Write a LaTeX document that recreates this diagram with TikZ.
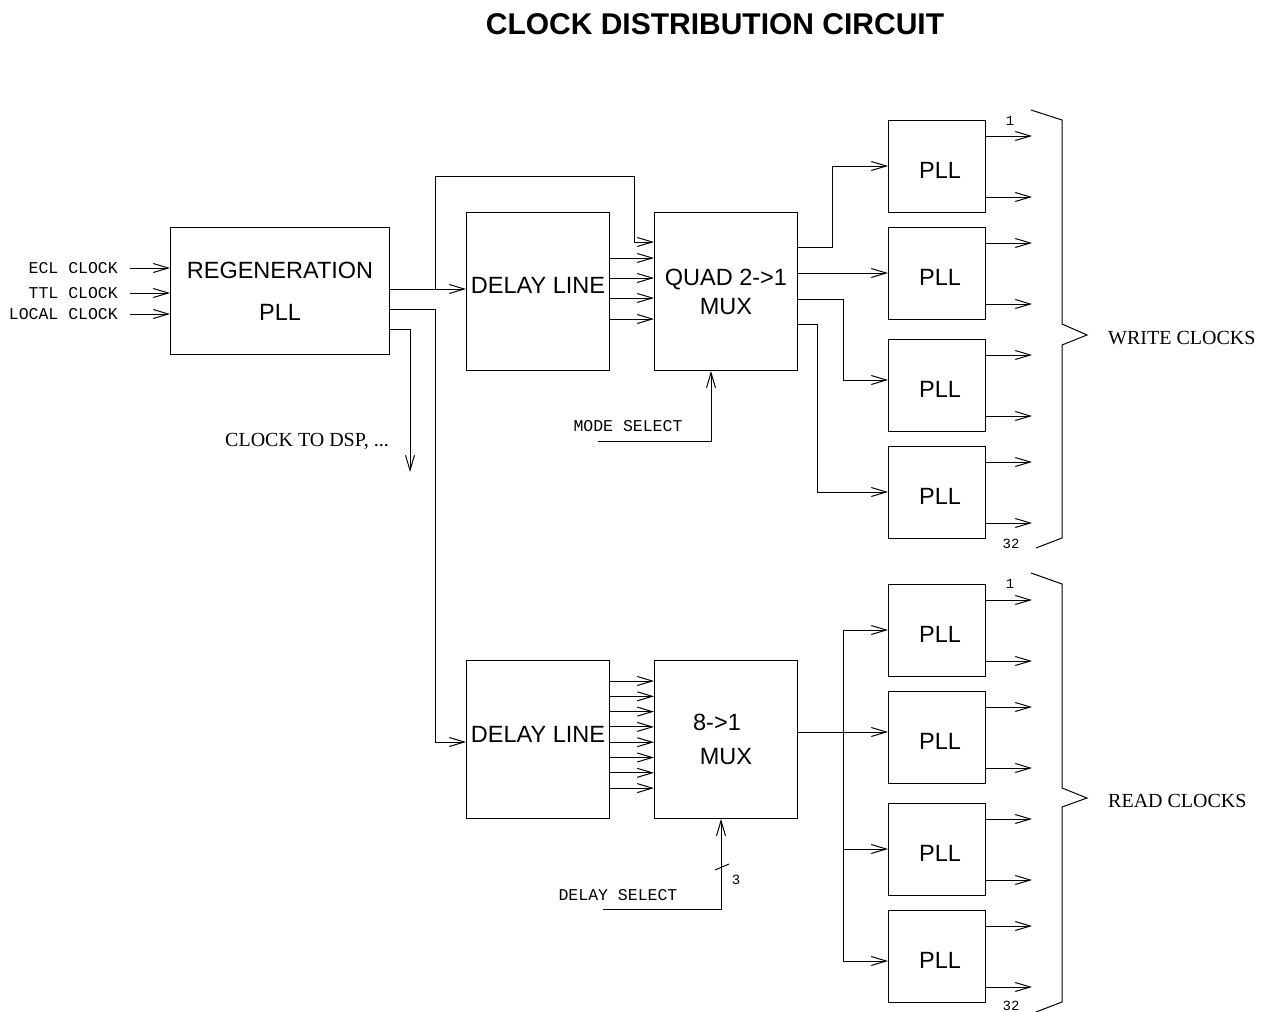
\documentclass[tikz,border=0pt]{standalone}
\usepackage{fontspec}
\setmainfont{Liberation Serif}
\setsansfont{Liberation Sans}
\setmonofont{Liberation Mono}
\usetikzlibrary{arrows.meta}
\begin{document}
\begin{tikzpicture}[x=1pt,y=-1pt,
  box/.style={draw,line width=1pt,inner sep=0,anchor=north west,align=center,
    font=\sffamily\fontsize{23.5}{28}\selectfont},
  pllbox/.style={box,minimum width=97pt,minimum height=92pt},
  wire/.style={line width=1pt},
  arr/.style={wire,-{Straight Barb[length=15pt,width=9pt,line width=1pt]}},
  lbl/.style={font=\ttfamily\fontsize{16.5}{18}\selectfont,inner sep=0},
  sml/.style={font=\ttfamily\fontsize{14}{16}\selectfont,inner sep=0},
  rlbl/.style={font=\rmfamily\fontsize{20}{22}\selectfont,inner sep=0}]
\useasboundingbox (0,0) rectangle (1267,1012);

% title
\node[font=\sffamily\bfseries\fontsize{30}{34}\selectfont,inner sep=0] (title) at (715,24) {CLOCK DISTRIBUTION CIRCUIT};

% main boxes
\node[box,minimum width=219pt,minimum height=127pt] (regen) at (170,227) {REGENERATION\\[14pt]PLL};
\node[box,minimum width=143pt,minimum height=158pt] (dl1) at (466,212) {\raisebox{6pt}[\height][\depth]{DELAY LINE}};
\node[box,minimum width=143pt,minimum height=158pt] (mux1) at (654,212) {QUAD 2->1\\[1pt]MUX};
\node[box,minimum width=143pt,minimum height=158pt] (dl2) at (466,660) {\raisebox{5pt}[\height][\depth]{DELAY LINE}};
\node[box,minimum width=143pt,minimum height=158pt] (mux2) at (654,660) {8->1\hspace*{18pt}\\[6pt]MUX};

% PLLs
\foreach \nm/\yy in {pll1/120,pll2/227,pll3/339,pll4/446,pll5/584,pll6/691,pll7/803,pll8/910}
  \node[pllbox] (\nm) at (888,\yy) {\raisebox{-4pt}[\height][\depth]{\hspace*{6pt}PLL}};

% input labels and arrows
\node[lbl,anchor=east] (lecl) at (118,268) {ECL CLOCK};
\node[lbl,anchor=east] (lttl) at (118,293) {TTL CLOCK};
\node[lbl,anchor=east] (lloc) at (118,314) {LOCAL CLOCK};
\draw[arr] ([xshift=12pt]lecl.east) -- (regen.west |- lecl.east);
\draw[arr] ([xshift=12pt]lttl.east) -- (regen.west |- lttl.east);
\draw[arr] ([xshift=12pt]lloc.east) -- (regen.west |- lloc.east);

% regeneration outputs
\draw[arr] (regen.east |- 0,289) -- (dl1.west |- 0,289);
\draw[arr] (435,289) -- (435,176) -- (634,176) -- (634,242) -- (mux1.west |- 0,242);
\draw[arr] (regen.east |- 0,309) -- (435,309) -- (435,742) -- (dl2.west |- 0,742);
\coordinate (dspend) at (410,472);
\draw[arr] (regen.east |- 0,329) -- (410,329) -- (dspend);
\node[rlbl,anchor=east] (ldsp) at (389,441) {CLOCK TO DSP, ...};

% delay line 1 -> mux 1
\foreach \yy in {258,278,298,319}
  \draw[arr] (dl1.east |- 0,\yy) -- (mux1.west |- 0,\yy);

% mode select
\node[lbl] (lmode) at (628,426) {MODE SELECT};
\draw[arr] (598,441) -- (711,441) -- (mux1.south -| 711,0);

% mux 1 -> PLLs
\draw[arr] (mux1.east |- 0,247) -- (832,247) -- (832,166) -- (pll1.west |- 0,166);
\draw[arr] (mux1.east |- 0,273) -- (pll2.west |- 0,273);
\draw[arr] (mux1.east |- 0,299) -- (843,299) -- (843,380) -- (pll3.west |- 0,380);
\draw[arr] (mux1.east |- 0,324) -- (817,324) -- (817,492) -- (pll4.west |- 0,492);

% delay line 2 -> mux 2
\foreach \k in {0,...,7}
  \draw[arr] (dl2.east |- 0,681+15.3*\k) -- (mux2.west |- 0,681+15.3*\k);

% delay select
\node[lbl] (ldel) at (618,895) {DELAY SELECT};
\draw[arr] (603,909) -- (721,909) -- (mux2.south -| 721,0);
\draw[wire] (715,870) -- (729,864);
\node[sml] (lthree) at (736,880) {3};

% mux 2 -> PLLs
\draw[arr] (mux2.east |- 0,732) -- (pll6.west |- 0,732);
\draw[wire] (843,630) -- (843,961);
\draw[arr] (843,630) -- (pll5.west |- 0,630);
\draw[arr] (843,849) -- (pll7.west |- 0,849);
\draw[arr] (843,961) -- (pll8.west |- 0,961);

% PLL outputs
\foreach \p in {pll1,pll2,pll3,pll4,pll5,pll6,pll7,pll8}{
  \draw[arr] ([yshift=-16pt]\p.north east) -- ++(46,0);
  \draw[arr] ([yshift=-77pt]\p.north east) -- ++(46,0);
}

% braces
\draw[wire] (1031,110) -- (1062,120) -- (1062,324) -- (1087,335) -- (1062,345) -- (1062,538) -- (1036,548);
\draw[wire] (1031,573) -- (1062,584) -- (1062,788) -- (1087,798) -- (1062,807) -- (1062,1002) -- (1036,1012);

\node[sml] (one1) at (1010,121) {1};
\node[sml] (n321) at (1011,544) {32};
\node[sml] (one2) at (1010,584) {1};
\node[sml] (n322) at (1011,1006) {32};

\node[rlbl,anchor=west] (lwrite) at (1108,338) {WRITE CLOCKS};
\node[rlbl,anchor=west] (lread) at (1108,801) {READ CLOCKS};
\end{tikzpicture}
\end{document}
